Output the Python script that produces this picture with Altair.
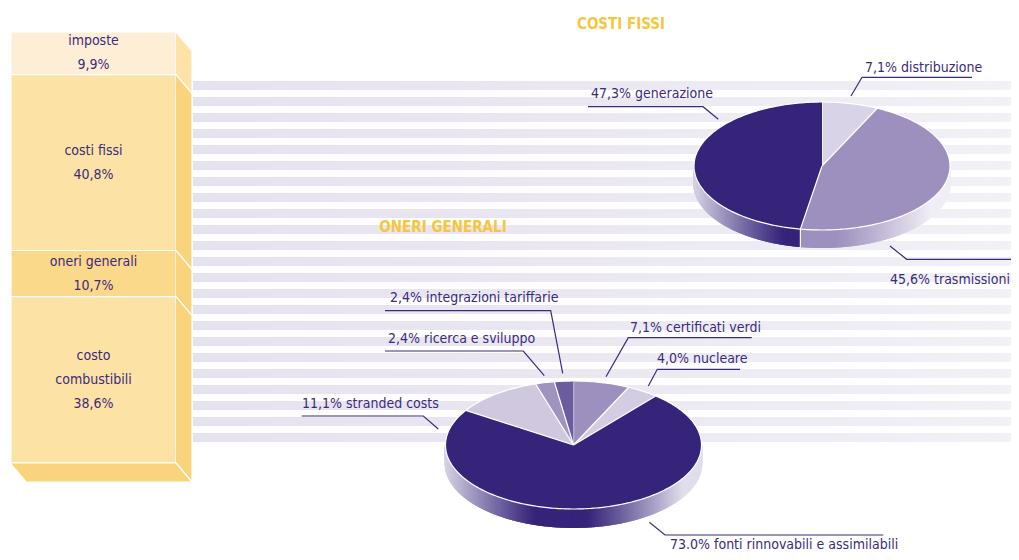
import altair as alt
import numpy as np
import pandas as pd

# ---------------- data ----------------
bar_names = ["imposte", "costi fissi", "oneri generali", "costo combustibili"]
bar_lines = [["imposte"], ["costi fissi"], ["oneri generali"], ["costo", "combustibili"]]
bar_values = [9.9, 40.8, 10.7, 38.6]
bar_value_text = ["9,9%", "40,8%", "10,7%", "38,6%"]

fissi_names = ["distribuzione", "trasmissioni", "generazione"]
fissi_values = [7.1, 45.6, 47.3]
fissi_text = ["7,1% distribuzione", "45,6% trasmissioni", "47,3% generazione"]

oneri_names = ["certificati verdi", "nucleare", "fonti rinnovabili e assimilabili",
               "stranded costs", "ricerca e sviluppo", "integrazioni tariffarie"]
oneri_values = [7.1, 4.0, 73.0, 11.1, 2.4, 2.4]
oneri_text = ["7,1% certificati verdi", "4,0% nucleare",
              "73.0% fonti rinnovabili e assimilabili", "11,1% stranded costs",
              "2,4% ricerca e sviluppo", "2,4% integrazioni tariffarie"]

titles = ["COSTI FISSI", "ONERI GENERALI"]

# ---------------- styles ----------------
INK = "#3b2b7c"
GOLD = "#f6c73c"
FONT = "Liberation Sans Narrow, DejaVu Sans Condensed, Roboto, sans-serif"
FS = 14
bar_colors = ["#feeed6", "#fde2a6", "#fbd98b", "#fde2a6"]
bar_side_colors = ["#fde3a7", "#f9d47c", "#f9d47c", "#f9d47c"]
bar_bottom_color = "#f9d47c"
fissi_colors = ["#d9d3e7", "#9e90be", "#36247a"]
oneri_colors = ["#9e90be", "#d3cce3", "#36247a", "#cfc8df", "#a093c0", "#6b5ca0"]

# ---------------- layout (page pixel coordinates) ----------------
W, H = 1003, 544
BX0, BX1, BTOP, BBOT, BDX, BDY = 11, 176, 32, 463, 16, 19
P1 = dict(cx=822, cy=166, rx=128, ry=64, depth=18)
P2 = dict(cx=573.5, cy=445, rx=128, ry=64, depth=19)

fissi_layout = [
    dict(tx=865, ty=71.5, align="left", line=[(851, 96), (862, 77.3), (972, 77.3)]),
    dict(tx=1010, ty=284, align="right", line=[(890, 246), (906.7, 259.3), (1011, 259.3)]),
    dict(tx=591, ty=98, align="left", line=[(588, 106.7), (703, 106.7), (718.3, 119.3)]),
]
oneri_layout = [
    dict(tx=630, ty=331.5, align="left", line=[(606, 376.7), (628.3, 337.7), (751.7, 337.7)]),
    dict(tx=657, ty=363, align="left", line=[(648.3, 386), (657.3, 369.3), (740, 369.3)]),
    dict(tx=670, ty=549, align="left", line=[(649.3, 522.3), (665, 535), (883.3, 535)]),
    dict(tx=302, ty=408, align="left", line=[(301.7, 416), (423.3, 416), (438.3, 429)]),
    dict(tx=388, ty=342.5, align="left", line=[(385, 351), (523.3, 351), (544.3, 375.7)]),
    dict(tx=390, ty=301.5, align="left", line=[(385, 310.7), (550.7, 310.7), (562.7, 373.3)]),
]
title_pos = [(621, 24), (443, 226.5)]

xs = alt.Scale(domain=[8, 8 + W], nice=False, zero=False)
ys = alt.Scale(domain=[8, 8 + H], nice=False, zero=False, reverse=True)


def X(f="x"):
    return alt.X(f"{f}:Q", scale=xs, axis=None)


def Y(f="y"):
    return alt.Y(f"{f}:Q", scale=ys, axis=None)


def hex2rgb(h):
    h = h.lstrip("#")
    return [int(h[i:i + 2], 16) for i in (0, 2, 4)]


def mix(h, f, to=(255, 255, 255)):
    r = hex2rgb(h)
    c = [round(r[i] * (1 - f) + to[i] * f) for i in range(3)]
    return "#%02x%02x%02x" % tuple(c)


def shade(u):
    d = abs(u + 0.1)
    f = np.clip((d - 0.2) / 0.75, 0, 1)
    return 0.85 * f ** 1.1


# ---------------- stripes ----------------
stripes = pd.DataFrame(dict(y=[81 + 16 * k for k in range(23)]))
stripes["y2"] = stripes["y"] + 9
stripes["x"] = 193
stripes["x2"] = 8 + W
stripe_layer = alt.Chart(stripes).mark_rect(
    fill=alt.Gradient(gradient="linear",
                      stops=[alt.GradientStop(color="#e6e1ee", offset=0),
                             alt.GradientStop(color="#ebe8f2", offset=0.5),
                             alt.GradientStop(color="#f2f1f6", offset=1)],
                      x1=0, x2=1, y1=0, y2=0)
).encode(x=X(), x2="x2:Q", y=Y(), y2="y2:Q")

# ---------------- 3D stacked bar ----------------
cum = np.concatenate([[0], np.cumsum(bar_values)])
tot = cum[-1]


def by(p):
    return BTOP + (BBOT - BTOP) * p / tot


front = pd.DataFrame(dict(x=BX0, x2=BX1,
                          y=[by(c) for c in cum[:-1]],
                          y2=[by(c) for c in cum[1:]],
                          color=bar_colors))
front_layer = alt.Chart(front).mark_rect(stroke="white", strokeWidth=1.2).encode(
    x=X(), x2="x2:Q", y=Y(), y2="y2:Q", color=alt.Color("color:N", scale=None))

poly_rows = []
for i in range(len(bar_values)):
    y0, y1 = by(cum[i]), by(cum[i + 1])
    pts = [(BX1, y0), (BX1 + BDX, y0 + BDY), (BX1 + BDX, y1 + BDY), (BX1, y1)]
    for j, (px, py) in enumerate(pts):
        poly_rows.append(dict(key=f"side{i}", i=j, x=px, y=py, color=bar_side_colors[i]))
pts = [(BX0, BBOT), (BX1, BBOT), (BX1 + BDX, BBOT + BDY), (BX0 + BDX, BBOT + BDY)]
for j, (px, py) in enumerate(pts):
    poly_rows.append(dict(key="bottom", i=j, x=px, y=py, color=bar_bottom_color))
bar_poly_layer = alt.Chart(pd.DataFrame(poly_rows)).mark_line(
    filled=True, stroke="white", strokeWidth=1.2).encode(
    x=X(), y=Y(), detail="key:N", order="i:Q", color=alt.Color("color:N", scale=None))

bar_text_rows = []
for i in range(len(bar_values)):
    lines = bar_lines[i] + [bar_value_text[i]]
    ymid = (by(cum[i]) + by(cum[i + 1])) / 2
    n = len(lines)
    for j, t in enumerate(lines):
        bar_text_rows.append(dict(x=(BX0 + BX1) / 2, y=ymid + (j - (n - 1) / 2) * 24, t=t))
bar_text_layer = alt.Chart(pd.DataFrame(bar_text_rows)).mark_text(
    font=FONT, fontSize=FS, color=INK, align="center", baseline="middle").encode(
    x=X(), y=Y(), text="t:N")


# ---------------- pies ----------------
def pie_parts(values, colors, P, key):
    cx, cy, rx, ry, dp = P["cx"], P["cy"], P["rx"], P["ry"], P["depth"]
    ang = np.concatenate([[0], np.cumsum(values)]) / sum(values) * 360
    wedge, side, seps = [], [], []
    for s in range(len(values)):
        a0, a1 = ang[s], ang[s + 1]
        n = max(3, int((a1 - a0) / 1.0) + 2)
        th = np.radians(np.linspace(a0, a1, n))
        pts = [(cx, cy)] + [(cx + rx * np.sin(t), cy - ry * np.cos(t)) for t in th]
        for j, (px, py) in enumerate(pts):
            wedge.append(dict(key=f"{key}{s}", i=j, x=px, y=py, color=colors[s]))
    for t in np.arange(90, 270.0001, 0.3):
        s = int(min(np.searchsorted(ang, t, side="right") - 1, len(values) - 1))
        u = np.sin(np.radians(t))
        x = cx + rx * u
        y = cy - ry * np.cos(np.radians(t))
        side.append(dict(x=x, y=y, y2=y + dp, color=mix(colors[s], shade(u))))
    for b in ang[1:-1]:
        if 90 < b < 270:
            t = np.radians(b)
            x = cx + rx * np.sin(t)
            y = cy - ry * np.cos(t)
            seps.append(dict(x=x, y=y, y2=y + dp))
    return wedge, side, seps


w1, s1, e1 = pie_parts(fissi_values, fissi_colors, P1, "f")
w2, s2, e2 = pie_parts(oneri_values, oneri_colors, P2, "o")

side_layer = alt.Chart(pd.DataFrame(s1 + s2)).mark_rule(strokeWidth=1.5).encode(
    x=X(), y=Y(), y2="y2:Q", color=alt.Color("color:N", scale=None))
sep_layer = alt.Chart(pd.DataFrame(e1 + e2)).mark_rule(strokeWidth=1.2, color="white").encode(
    x=X(), y=Y(), y2="y2:Q")
wedge_layer = alt.Chart(pd.DataFrame(w1 + w2)).mark_line(
    filled=True, stroke="white", strokeWidth=1.2, strokeJoin="round").encode(
    x=X(), y=Y(), detail="key:N", order="i:Q", color=alt.Color("color:N", scale=None))

# ---------------- labels & leaders ----------------
lead_rows, lab_left, lab_right = [], [], []
for name, txt, lay in list(zip(fissi_names, fissi_text, fissi_layout)) + \
        list(zip(oneri_names, oneri_text, oneri_layout)):
    for j, (px, py) in enumerate(lay["line"]):
        lead_rows.append(dict(key=name, i=j, x=px, y=py))
    row = dict(x=lay["tx"], y=lay["ty"], t=txt)
    (lab_right if lay["align"] == "right" else lab_left).append(row)

leader_layer = alt.Chart(pd.DataFrame(lead_rows)).mark_line(
    color=INK, strokeWidth=1.2).encode(x=X(), y=Y(), detail="key:N", order="i:Q")
lab_left_layer = alt.Chart(pd.DataFrame(lab_left)).mark_text(
    font=FONT, fontSize=FS, color=INK, align="left", baseline="alphabetic").encode(
    x=X(), y=Y(), text="t:N")
lab_right_layer = alt.Chart(pd.DataFrame(lab_right)).mark_text(
    font=FONT, fontSize=FS, color=INK, align="right", baseline="alphabetic").encode(
    x=X(), y=Y(), text="t:N")

title_df = pd.DataFrame(dict(x=[p[0] for p in title_pos], y=[p[1] for p in title_pos], t=titles))
title_layer = alt.Chart(title_df).mark_text(
    font=FONT, fontSize=15, fontWeight="bold", color=GOLD, align="center",
    baseline="middle").encode(x=X(), y=Y(), text="t:N")

chart = alt.layer(
    stripe_layer, front_layer, bar_poly_layer, bar_text_layer,
    side_layer, sep_layer, wedge_layer,
    leader_layer, lab_left_layer, lab_right_layer, title_layer
).properties(
    width=W, height=H, padding=0,
    autosize=alt.AutoSizeParams(type="none")
).configure_view(stroke=None)

chart.save("out.html", embed_options={"renderer": "svg", "actions": False})
